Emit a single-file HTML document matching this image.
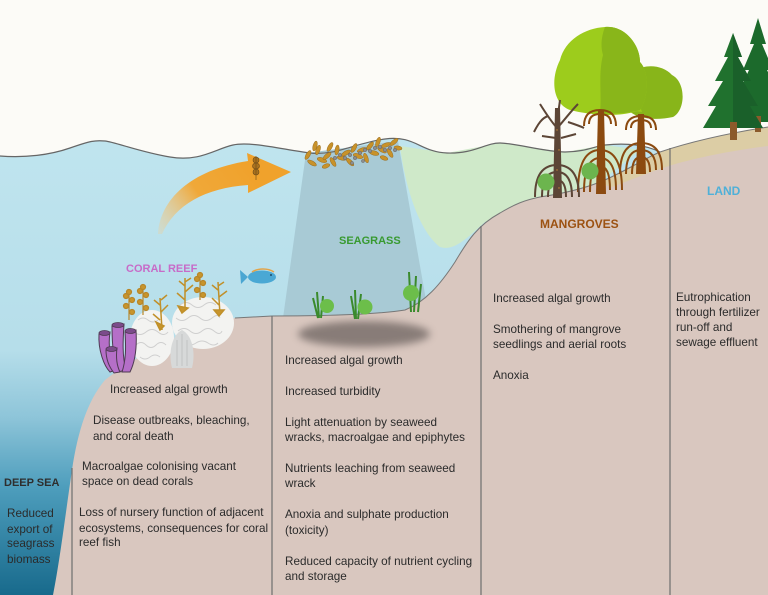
<!DOCTYPE html>
<html><head><meta charset="utf-8">
<style>
html,body{margin:0;padding:0;background:#fcfbf7;}
svg{display:block;}
text{font-family:"Liberation Sans",sans-serif;}
.t{font-size:11.7px;fill:#2b2b2b;}
.h{font-weight:bold;}
</style></head>
<body>
<svg width="768" height="595" viewBox="0 0 768 595" xmlns="http://www.w3.org/2000/svg">
<defs>
<linearGradient id="wg" x1="0" y1="150" x2="0" y2="595" gradientUnits="userSpaceOnUse">
<stop offset="0" stop-color="#bfe4ee"/>
<stop offset="0.45" stop-color="#b6deea"/>
<stop offset="0.6" stop-color="#8ec5d9"/>
<stop offset="0.76" stop-color="#4d9dbc"/>
<stop offset="1" stop-color="#186a8c"/>
</linearGradient>
<linearGradient id="ag" x1="160" y1="234" x2="250" y2="170" gradientUnits="userSpaceOnUse">
<stop offset="0" stop-color="#f3cf93" stop-opacity="0.3"/>
<stop offset="0.5" stop-color="#f0a838"/>
<stop offset="1" stop-color="#f0a22c"/>
</linearGradient>
<filter id="bl" x="-30%" y="-80%" width="160%" height="260%"><feGaussianBlur stdDeviation="4"/></filter>
</defs>

<rect width="768" height="595" fill="#fcfbf7"/>

<!-- water -->
<path d="M0,156 C25,158 50,155 70,148 S95,140 105,141 S140,152 170,157 S215,149 233,145 S285,150 310,153 S355,143 385,139 S420,152 447,153 S485,143 500,143 S545,152 565,152 S595,146 605,145 S640,142 660,152 L660,595 L0,595 Z" fill="url(#wg)"/>
<!-- seagrass column -->
<polygon points="306,153 398,141 426,300 405,311 283,318" fill="#a8cad5"/>
<!-- mangrove green zone -->
<path d="M400,146 C405,185 418,230 440,247 C455,252 470,235 485,222 L600,182 L640,150 L605,145 L565,152 L500,143 L447,153 Z" fill="#cfe9c9"/>

<!-- ground -->
<path d="M768,127 L768,595 L53,595 C60,560 66,510 72,470 C78,430 88,400 105,380 C130,360 190,325 235,318 L272,316 C330,316 380,314 405,310 C425,302 440,285 455,262 C468,240 478,225 500,213 C515,204 525,200 540,197 C560,194 580,190 600,182 C625,172 645,158 660,152 C690,142 730,133 768,127 Z" fill="#d9c7bf"/>
<!-- sand -->
<path d="M598,183 C625,172 645,158 660,152 C690,142 730,133 768,127 L768,146 C730,151 700,157 672,165 C650,172 630,180 612,187 Z" fill="#dccda5"/>

<!-- outlines -->
<path d="M0,156 C25,158 50,155 70,148 S95,140 105,141 S140,152 170,157 S215,149 233,145 S285,150 310,153 S355,143 385,139 S420,152 447,153 S485,143 500,143 S545,152 565,152 S595,146 605,145 S640,142 660,152" fill="none" stroke="#666" stroke-width="1.2"/>
<path d="M235,318 L272,316 C330,316 380,314 405,310 C425,302 440,285 455,262 C468,240 478,225 500,213 C515,204 525,200 540,197 C560,194 580,190 600,182 C625,172 645,158 660,152 C690,142 730,133 768,127" fill="none" stroke="#777" stroke-width="1"/>

<!-- dividers -->
<g stroke="#6e6e6e" stroke-width="1.2">
<line x1="72" y1="468" x2="72" y2="595"/>
<line x1="272" y1="316" x2="272" y2="595"/>
<line x1="481" y1="226" x2="481" y2="595"/>
<line x1="670" y1="148" x2="670" y2="595"/>
</g>

<!-- shadow under seagrass -->
<ellipse cx="364" cy="334" rx="66" ry="13" fill="#7a6f6c" opacity="0.85" filter="url(#bl)"/>

<!-- arrow -->
<path d="M158,234 C160,200 190,170 248,161 L247,153 L291,172 L248,193 L248,185 C205,188 175,205 162,234 Z" fill="url(#ag)"/>
<g fill="#a9711d" stroke="#6b4a1a" stroke-width="0.6">
<ellipse cx="256" cy="160" rx="3" ry="3"/><ellipse cx="256" cy="166" rx="3.5" ry="3"/><ellipse cx="256" cy="172" rx="3" ry="3"/>
<line x1="256" y1="156" x2="256" y2="180"/>
</g>

<!-- wrack -->
<g fill="#c8922a" stroke="#9a6e22" stroke-width="0.5">
<ellipse cx="308" cy="155" rx="5" ry="2" transform="rotate(-60 308 155)"/>
<ellipse cx="312" cy="163" rx="5" ry="2" transform="rotate(30 312 163)"/>
<ellipse cx="318" cy="150" rx="5" ry="2" transform="rotate(-70 318 150)"/>
<ellipse cx="322" cy="160" rx="5" ry="2.2" transform="rotate(20 322 160)"/>
<ellipse cx="327" cy="156" rx="5" ry="2" transform="rotate(-40 327 156)"/>
<ellipse cx="333" cy="162" rx="5" ry="2" transform="rotate(60 333 162)"/>
<ellipse cx="337" cy="150" rx="5" ry="2" transform="rotate(-80 337 150)"/>
<ellipse cx="342" cy="158" rx="5" ry="2.2" transform="rotate(10 342 158)"/>
<ellipse cx="346" cy="153" rx="5" ry="2" transform="rotate(-30 346 153)"/>
<ellipse cx="350" cy="162" rx="5" ry="2" transform="rotate(45 350 162)"/>
<ellipse cx="354" cy="148" rx="5" ry="2" transform="rotate(-60 354 148)"/>
<ellipse cx="358" cy="156" rx="5" ry="2.2" transform="rotate(20 358 156)"/>
<ellipse cx="362" cy="150" rx="5" ry="2" transform="rotate(-20 362 150)"/>
<ellipse cx="366" cy="158" rx="5" ry="2" transform="rotate(70 366 158)"/>
<ellipse cx="370" cy="146" rx="5" ry="2" transform="rotate(-50 370 146)"/>
<ellipse cx="374" cy="153" rx="5" ry="2.2" transform="rotate(15 374 153)"/>
<ellipse cx="378" cy="142" rx="5" ry="2" transform="rotate(-70 378 142)"/>
<ellipse cx="382" cy="150" rx="5" ry="2" transform="rotate(30 382 150)"/>
<ellipse cx="386" cy="145" rx="5" ry="2" transform="rotate(-20 386 145)"/>
<ellipse cx="390" cy="153" rx="5" ry="2" transform="rotate(60 390 153)"/>
<ellipse cx="394" cy="142" rx="5" ry="2" transform="rotate(-40 394 142)"/>
<ellipse cx="398" cy="148" rx="4" ry="2" transform="rotate(10 398 148)"/>
<ellipse cx="330" cy="147" rx="5" ry="2" transform="rotate(-60 330 147)"/>
<ellipse cx="315" cy="146" rx="5" ry="2" transform="rotate(-75 315 146)"/>
<ellipse cx="384" cy="158" rx="4" ry="2" transform="rotate(20 384 158)"/>
<ellipse cx="326" cy="166" rx="4" ry="2" transform="rotate(-20 326 166)"/>
</g>
<g fill="#8d8d8d" stroke="#5a5a5a" stroke-width="0.4">
<circle cx="335" cy="158" r="1.8"/><circle cx="340" cy="155" r="1.8"/><circle cx="345" cy="158" r="1.8"/><circle cx="350" cy="155" r="1.8"/><circle cx="355" cy="158" r="1.8"/><circle cx="360" cy="153" r="1.8"/><circle cx="365" cy="150" r="1.8"/><circle cx="370" cy="151" r="1.8"/><circle cx="375" cy="148" r="1.8"/><circle cx="380" cy="147" r="1.8"/><circle cx="385" cy="150" r="1.8"/><circle cx="390" cy="148" r="1.8"/><circle cx="395" cy="150" r="1.8"/><circle cx="363" cy="161" r="1.6"/><circle cx="352" cy="163" r="1.6"/>
</g>

<!-- coral blobs -->
<ellipse cx="152" cy="338" rx="22" ry="28" fill="#f3f3f1"/>
<ellipse cx="203" cy="323" rx="31" ry="26" fill="#f3f3f1"/>
<g fill="none" stroke="#cfcfcf" stroke-width="1">
<path d="M138,320 q5,-4 10,0 t10,0 M134,332 q6,5 12,0 t12,0 t10,0 M136,345 q5,-5 10,0 t10,0 t10,0 M140,357 q5,4 10,0 t10,0"/>
<path d="M180,305 q6,-5 12,0 t12,0 t12,0 M176,318 q6,5 12,0 t12,0 t12,0 t8,0 M178,331 q6,-5 12,0 t12,0 t12,0 t8,0 M184,343 q6,4 12,0 t12,0 t10,0"/>
</g>
<path d="M172,368 C168,352 172,335 182,330 C192,335 196,352 192,368 Z" fill="#d7d9d9"/>
<g stroke="#c2c4c4" stroke-width="1" fill="none"><path d="M177,366 L177,340 M182,366 L182,334 M187,366 L187,340"/></g>

<!-- purple sponges -->
<g fill="#b56fc8" stroke="#4e3a52" stroke-width="1">
<path d="M99,334 C98,350 104,366 110,372 L116,370 C110,360 108,346 110,332 Z"/>
<path d="M112,326 C112,345 114,362 118,372 L126,370 C122,356 123,340 124,324 Z"/>
<path d="M125,332 C126,348 126,360 122,372 L130,372 C136,360 137,346 136,330 Z"/>
<path d="M106,350 C106,360 110,368 114,373 L120,372 C116,364 116,356 117,348 Z"/>
</g>
<g fill="#7b4b8a" stroke="#4e3a52" stroke-width="0.8">
<ellipse cx="104.5" cy="333" rx="5.5" ry="2.5"/>
<ellipse cx="118" cy="325" rx="6" ry="2.5"/>
<ellipse cx="130.5" cy="331" rx="5.5" ry="2.5"/>
<ellipse cx="111.5" cy="349" rx="5.5" ry="2.5"/>
</g>

<!-- golden seaweeds on coral -->
<g stroke="#b7862a" stroke-width="1.2" fill="#c8952c">
<line x1="129" y1="320" x2="129" y2="292"/><circle cx="126" cy="296" r="2.5"/><circle cx="132" cy="300" r="2.5"/><circle cx="126" cy="306" r="2.5"/><circle cx="132" cy="312" r="2.5"/><circle cx="129" cy="292" r="2.5"/>
<line x1="143" y1="315" x2="143" y2="287"/><circle cx="140" cy="291" r="2.5"/><circle cx="146" cy="295" r="2.5"/><circle cx="140" cy="302" r="2.5"/><circle cx="146" cy="308" r="2.5"/><circle cx="143" cy="287" r="2.5"/>
<line x1="200" y1="300" x2="200" y2="275"/><circle cx="197" cy="279" r="2.5"/><circle cx="203" cy="283" r="2.5"/><circle cx="197" cy="290" r="2.5"/><circle cx="203" cy="295" r="2.5"/><circle cx="200" cy="275" r="2.5"/>
</g>
<g stroke="#c0902a" stroke-width="1.5" fill="#c8952c">
<path d="M162,330 L160,298 M160,320 l-7,-6 M161,312 l7,-7 M160,305 l-6,-5 M161,300 l6,-5" fill="none"/>
<path d="M185,310 L185,278 M185,300 l-8,-7 M185,292 l8,-7 M185,286 l-6,-5 M185,282 l6,-4" fill="none"/>
<path d="M220,315 L218,282 M219,305 l-7,-7 M219,297 l8,-6 M218,290 l-6,-5 M218,286 l6,-4" fill="none"/>
<path d="M156,322 l8,4 l-4,4 Z M178,306 l10,2 l-6,5 Z M214,310 l10,0 l-5,6 Z"/>
</g>

<!-- fish -->
<path d="M248,277 L240,270 L241,284 Z" fill="#4aa6d2"/>
<ellipse cx="262" cy="277" rx="14" ry="6.5" fill="#4aa8d4"/>
<path d="M252,272 C258,268 268,268 274,272" stroke="#e2a44a" stroke-width="1.5" fill="none"/>
<circle cx="271" cy="275" r="1" fill="#1f4b66"/>

<!-- seagrass plants -->
<g stroke="#3a8a2c" stroke-width="2" fill="none">
<path d="M319,318 L317,292 M321,318 L323,296 M318,318 L313,298"/>
<path d="M356,319 L355,290 M358,319 L361,294 M355,319 L351,296"/>
<path d="M411,312 L409,272 M414,312 L416,276 M418,312 L421,284"/>
</g>
<g fill="#6cbe4a">
<circle cx="327" cy="306" r="7"/>
<circle cx="365" cy="307" r="7.5"/>
<circle cx="411" cy="293" r="8"/>
</g>

<!-- pine trees -->
<polygon points="758,18 766,44 762,44 773,70 767,70 779,96 772,96 783,122 733,122 744,96 737,96 749,70 743,70 754,44 750,44" fill="#1c6a2c"/>
<rect x="755" y="116" width="6" height="16" fill="#8b5a2b"/>
<polygon points="733,33 742,57 738,57 751,81 743,81 758,106 750,106 763,128 703,128 716,106 708,106 723,81 715,81 728,57 724,57" fill="#20712e"/>
<polygon points="733,33 742,57 738,57 751,81 743,81 758,106 750,106 763,128 733,128" fill="#1a602a"/>
<rect x="730" y="122" width="7" height="18" fill="#8b5a2b"/>

<!-- mangrove canopies -->
<path d="M628,78 C636,64 660,62 672,75 C686,82 686,110 673,117 C655,121 632,119 625,106 Z" fill="#88b51a"/>
<path d="M625,80 C632,72 640,72 646,80 C640,90 638,102 642,112 L628,110 Z" fill="#9dcc1c"/>
<path d="M560,60 C565,40 585,28 605,27 C625,25 640,45 640,62 C650,72 648,100 640,110 C620,118 590,115 570,110 C553,104 550,80 560,60 Z" fill="#9dcc1c"/>
<path d="M605,27 C625,25 640,45 640,62 C650,72 648,100 640,110 C625,114 612,114 600,113 C602,95 598,75 603,55 C600,45 602,35 605,27 Z" fill="#89b61a"/>

<!-- mangrove trunks & roots -->
<g fill="none" stroke="#8b4a10" stroke-width="2">
<path d="M584,126 Q584,110 600,110 Q616,110 616,126 M589,124 Q589,114 600,114 Q611,114 611,124"/>
<path d="M626,130 Q626,116 641,116 Q656,116 656,130 M631,128 Q631,120 641,120 Q651,120 651,128"/>
<path d="M578,192 Q578,150 600,150 Q622,150 622,190 M584,192 Q584,158 600,158 Q616,158 616,190 M590,192 Q590,166 600,166 Q610,166 610,190"/>
<path d="M620,174 Q620,143 641,143 Q662,143 662,170 M626,174 Q626,150 641,150 Q656,150 656,170 M632,174 Q632,157 641,157 Q650,157 650,172"/>
</g>
<path d="M596,194 L598,110 L604,110 L606,194 Z" fill="#8b4a10"/>
<path d="M636,174 L638,114 L644,114 L646,174 Z" fill="#8b4a10"/>

<!-- dead tree -->
<g fill="none" stroke="#5c4536" stroke-width="2">
<path d="M557,128 C550,120 545,112 540,104 M548,116 C542,118 538,124 534,132 M559,126 C566,118 572,110 578,104 M568,122 C574,124 580,126 584,128 M557,122 L560,100 M556,138 L542,136 M561,138 L576,134"/>
<path d="M535,197 Q535,165 557,165 Q579,165 579,197 M542,197 Q542,172 557,172 Q572,172 572,197 M548,197 Q548,180 557,180 Q566,180 566,197"/>
</g>
<path d="M553,198 L555,108 L560,108 L562,198 Z" fill="#5c4536"/>
<g fill="#c98a3a"><circle cx="557" cy="130" r="0.7"/><circle cx="559" cy="150" r="0.7"/><circle cx="557" cy="170" r="0.7"/><circle cx="559" cy="188" r="0.7"/></g>

<!-- green bushes -->
<circle cx="546" cy="182" r="8.5" fill="#6cb54e"/>
<circle cx="590" cy="171" r="8.5" fill="#6cb54e"/>

<!-- labels -->
<text x="126" y="272" class="h" font-size="11" fill="#c76bc8">CORAL REEF</text>
<text x="339" y="244" class="h" font-size="11" fill="#389a30">SEAGRASS</text>
<text x="540" y="228" class="h" font-size="12" fill="#9c5212">MANGROVES</text>
<text x="707" y="195" class="h" font-size="12" fill="#4fb0d8">LAND</text>
<text x="4" y="486" class="h" font-size="11" fill="#2e2e2e">DEEP SEA</text>

<!-- deep sea text -->
<text class="t" x="7" y="517">Reduced</text>
<text class="t" x="7" y="533">export of</text>
<text class="t" x="7" y="547">seagrass</text>
<text class="t" x="7" y="563">biomass</text>

<!-- coral column -->
<text class="t" x="110" y="393">Increased algal growth</text>
<text class="t" x="93" y="424">Disease outbreaks, bleaching,</text>
<text class="t" x="93" y="440">and coral death</text>
<text class="t" x="82" y="470">Macroalgae colonising vacant</text>
<text class="t" x="82" y="485">space on dead corals</text>
<text class="t" x="79" y="516">Loss of nursery function of adjacent</text>
<text class="t" x="79" y="532">ecosystems, consequences for coral</text>
<text class="t" x="79" y="546">reef fish</text>

<!-- seagrass column -->
<text class="t" x="285" y="364">Increased algal growth</text>
<text class="t" x="285" y="395">Increased turbidity</text>
<text class="t" x="285" y="426">Light attenuation by seaweed</text>
<text class="t" x="285" y="441">wracks, macroalgae and epiphytes</text>
<text class="t" x="285" y="472">Nutrients leaching from seaweed</text>
<text class="t" x="285" y="487">wrack</text>
<text class="t" x="285" y="518">Anoxia and sulphate production</text>
<text class="t" x="285" y="534">(toxicity)</text>
<text class="t" x="285" y="565">Reduced capacity of nutrient cycling</text>
<text class="t" x="285" y="580">and storage</text>

<!-- mangrove column -->
<text class="t" x="493" y="302">Increased algal growth</text>
<text class="t" x="493" y="333">Smothering of mangrove</text>
<text class="t" x="493" y="348">seedlings and aerial roots</text>
<text class="t" x="493" y="379">Anoxia</text>

<!-- land column -->
<text class="t" x="676" y="301">Eutrophication</text>
<text class="t" x="676" y="316">through fertilizer</text>
<text class="t" x="676" y="331">run-off and</text>
<text class="t" x="676" y="346">sewage effluent</text>
</svg>
</body></html>
